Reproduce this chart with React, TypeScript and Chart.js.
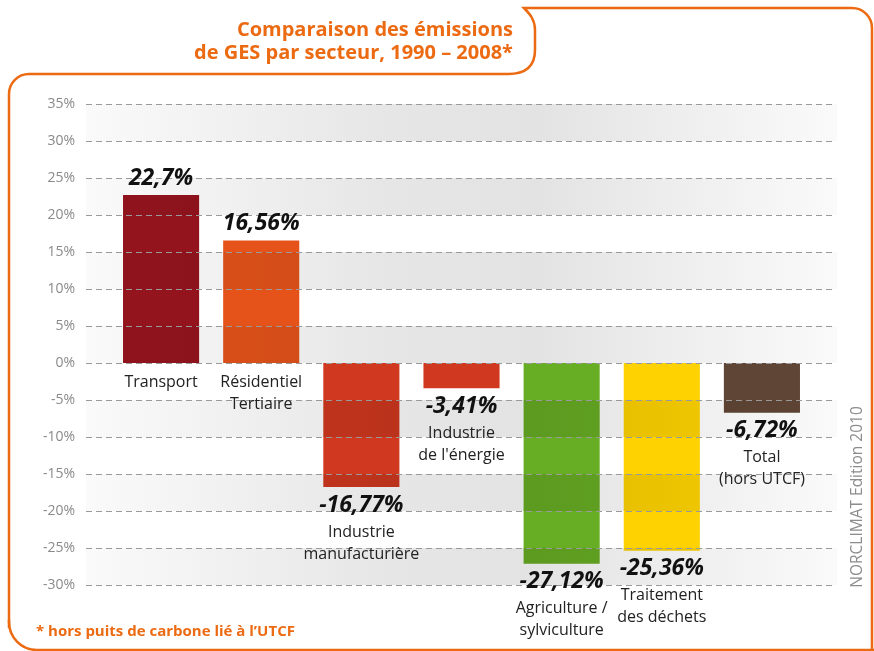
import React, { useEffect, useRef } from "react";
import { Chart, registerables } from "chart.js";

Chart.register(...registerables);

// ---------- data ----------
const categoryLines: string[][] = [
  ["Transport"],
  ["Résidentiel", "Tertiaire"],
  ["Industrie", "manufacturière"],
  ["Industrie", "de l'énergie"],
  ["Agriculture /", "sylviculture"],
  ["Traitement", "des déchets"],
  ["Total", "(hors UTCF)"],
];
const values: number[] = [22.7, 16.56, -16.77, -3.41, -27.12, -25.36, -6.72];
const valueLabels: string[] = ["22,7%", "16,56%", "-16,77%", "-3,41%", "-27,12%", "-25,36%", "-6,72%"];
const barColors: string[] = ["#93141d", "#e5531a", "#d0381f", "#d0381f", "#68ae24", "#fdd200", "#5f4535"];
const yMin = -30;
const yMax = 35;
const yStep = 5;
const titleLines: string[] = ["Comparaison des émissions", "de GES par secteur, 1990 – 2008*"];
const footnote = "* hors puits de carbone lié à l’UTCF";
const sourceText = "NORCLIMAT Edition 2010";

const FONT = "'Open Sans', 'Noto Sans', sans-serif";
const ORANGE = "#ec6a12";

const decorPlugin = {
  id: "decor",
  beforeDraw(chart: any) {
    const ctx = chart.ctx;
    ctx.save();
    // frame
    ctx.strokeStyle = ORANGE;
    ctx.lineWidth = 2.5;
    ctx.beginPath();
    ctx.moveTo(9, 628);
    ctx.lineTo(9, 94);
    ctx.arcTo(9, 74, 29, 74, 20);
    ctx.lineTo(508, 74);
    ctx.bezierCurveTo(528, 74, 535, 64, 535, 50);
    ctx.lineTo(535, 30);
    ctx.bezierCurveTo(535, 20, 530, 14, 524, 8);
    ctx.lineTo(852, 8);
    ctx.arcTo(872, 8, 872, 28, 20);
    ctx.lineTo(872, 700);
    ctx.stroke();
    ctx.beginPath();
    ctx.moveTo(9, 620);
    ctx.arcTo(9, 650, 39, 650, 28);
    ctx.lineTo(900, 650);
    ctx.stroke();

    // title
    ctx.fillStyle = ORANGE;
    ctx.font = `bold 20px ${FONT}`;
    ctx.textAlign = "right";
    ctx.textBaseline = "middle";
    ctx.fillText(titleLines[0], 513, 30);
    ctx.fillText(titleLines[1], 513, 53);

    // footnote
    ctx.font = `bold 15px ${FONT}`;
    ctx.textAlign = "left";
    ctx.fillText(footnote, 36, 632);

    // source (vertical)
    ctx.fillStyle = "#8c8c8c";
    ctx.font = `15.5px ${FONT}`;
    ctx.translate(858, 497);
    ctx.rotate(-Math.PI / 2);
    ctx.textAlign = "center";
    ctx.fillText(sourceText, 0, 0);
    ctx.restore();
  },
  afterDatasetsDraw(chart: any) {
    const ctx = chart.ctx;
    const y = chart.scales.y;
    const area = chart.chartArea;
    const gl = area.left - 25;
    const gr = area.right + 22;
    const br = area.right + 25;
    ctx.save();
    // bands (multiply so bars darken under them)
    const grad = ctx.createLinearGradient(gl, 0, br, 0);
    grad.addColorStop(0, "#fafafa");
    grad.addColorStop(0.4, "#e6e6e6");
    grad.addColorStop(0.6, "#e3e3e3");
    grad.addColorStop(1, "#fafafa");
    ctx.globalCompositeOperation = "multiply";
    ctx.fillStyle = grad;
    for (let v = yMax; v > yMin; v -= 2 * yStep) {
      const t = y.getPixelForValue(v);
      const b = y.getPixelForValue(v - yStep);
      ctx.fillRect(gl, t, br - gl, b - t);
    }
    ctx.globalCompositeOperation = "source-over";
    // dashed grid lines
    ctx.strokeStyle = "#9a9a9a";
    ctx.lineWidth = 1;
    ctx.setLineDash([6, 4]);
    for (let v = yMin; v <= yMax; v += yStep) {
      const py = Math.round(y.getPixelForValue(v)) + 0.5;
      ctx.beginPath();
      ctx.moveTo(gl, py);
      ctx.lineTo(gr, py);
      ctx.stroke();
    }
    ctx.setLineDash([]);

    // value and category labels
    const meta = chart.getDatasetMeta(0);
    const zero = y.getPixelForValue(0);
    meta.data.forEach((bar: any, i: number) => {
      const x = bar.x;
      const yEnd = bar.y;
      const v = values[i];
      ctx.fillStyle = "#111";
      ctx.font = `italic bold 23px ${FONT}`;
      ctx.textAlign = "center";
      ctx.textBaseline = "middle";
      const vy = v >= 0 ? yEnd - 17 : yEnd + 18;
      ctx.fillText(valueLabels[i], x, vy);
      ctx.font = `16px ${FONT}`;
      ctx.fillStyle = "#222";
      const startY = v >= 0 ? zero + 19 : yEnd + 45;
      categoryLines[i].forEach((line, k) => {
        ctx.fillText(line, x, startY + k * 22);
      });
    });
    ctx.restore();
  },
};

export default function App() {
  const ref = useRef<HTMLCanvasElement | null>(null);
  useEffect(() => {
    if (!ref.current) return;
    const chart = new Chart(ref.current, {
      type: "bar",
      data: {
        labels: categoryLines.map((c) => c.join(" ")),
        datasets: [
          {
            data: values,
            backgroundColor: barColors,
            borderWidth: 0,
            barPercentage: 0.76,
            categoryPercentage: 1,
          },
        ],
      },
      options: {
        animation: false,
        responsive: true,
        maintainAspectRatio: false,
        layout: { padding: { top: 104, right: 62, bottom: 66, left: 0 } },
        plugins: {
          legend: { display: false },
          tooltip: { enabled: false },
          title: { display: false },
        },
        scales: {
          x: { display: false },
          y: {
            min: yMin,
            max: yMax,
            position: "left",
            grid: { display: false, drawTicks: false },
            border: { display: false },
            ticks: {
              stepSize: yStep,
              padding: 36,
              color: "#8a8a8a",
              font: { family: FONT, size: 14 },
              callback: (v: any) => `${v}%`,
            },
            afterFit: (s: any) => {
              s.width = 111;
            },
          },
        },
      },
      plugins: [decorPlugin],
    });
    return () => chart.destroy();
  }, []);
  return (
    <div style={{ position: "fixed", left: 0, top: 0, width: 874, height: 651, background: "#fff" }}>
      <canvas ref={ref} />
    </div>
  );
}
